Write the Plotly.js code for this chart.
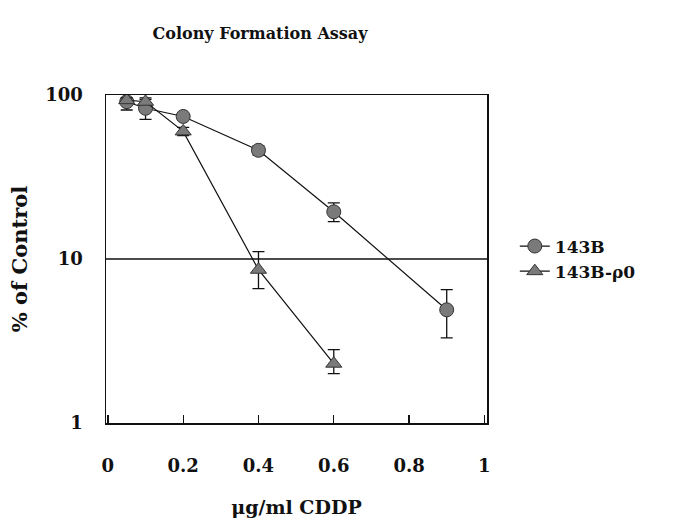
<!DOCTYPE html>
<html>
<head>
<meta charset="utf-8">
<script src="https://cdn.plot.ly/plotly-3.0.1.min.js"></script>
<style>html,body{margin:0;padding:0;background:#fff;}#chart{width:674px;height:524px;}</style>
</head>
<body>
<div id="chart"></div>
<script>
const dose143B = [0.05, 0.1, 0.2, 0.4, 0.6, 0.9];
const val143B = [91, 83, 74, 46, 19.4, 4.9];
const errUp143B = [15, 13, 3, 3, 2.6, 1.6];
const errDn143B = [10, 12, 3, 3, 2.5, 1.6];

const doseRho0 = [0.05, 0.1, 0.2, 0.4, 0.6];
const valRho0 = [93, 91, 60, 8.6, 2.3];
const errUpRho0 = [3, 3, 3.5, 2.5, 0.5];
const errDnRho0 = [3, 3, 3.5, 2.0, 0.3];

const seriesNames = ['143B', '143B-\u03c10'];
const xTickVals = [0, 0.2, 0.4, 0.6, 0.8, 1];
const xTickText = ['0', '0.2', '0.4', '0.6', '0.8', '1'];
const yTickVals = [1, 10, 100];
const yTickText = ['1', '10', '100'];
const refLevel = 10;

const serif = 'DejaVu Serif, Liberation Serif, serif';

const traces = [
  {
    x: dose143B, y: val143B, name: seriesNames[0], type: 'scatter', mode: 'lines+markers',
    line: {color: '#111', width: 1.2},
    marker: {symbol: 'circle', size: 14, color: '#7a7a7a', line: {color: '#333', width: 1}},
    error_y: {type: 'data', symmetric: false, array: errUp143B, arrayminus: errDn143B,
              color: '#111', thickness: 1.3, width: 6}
  },
  {
    x: doseRho0, y: valRho0, name: seriesNames[1], type: 'scatter', mode: 'lines+markers',
    line: {color: '#111', width: 1.2},
    marker: {symbol: 'triangle-up', size: 14, color: '#7a7a7a', line: {color: '#333', width: 1}},
    error_y: {type: 'data', symmetric: false, array: errUpRho0, arrayminus: errDnRho0,
              color: '#111', thickness: 1.3, width: 6}
  }
];

const layout = {
  width: 674, height: 524,
  margin: {l: 106, r: 187, t: 95, b: 101},
  paper_bgcolor: '#fff', plot_bgcolor: '#fff',
  font: {family: serif, color: '#111'},
  title: {text: 'Colony Formation Assay', font: {family: serif, size: 16, weight: 'bold', color: '#111'},
          x: 260 / 674, xref: 'container', xanchor: 'center', y: 0.937, yanchor: 'middle'},
  xaxis: {
    range: [-0.005, 1.007], tickvals: xTickVals, ticktext: xTickText,
    ticks: 'inside', ticklen: 8, tickwidth: 1.3, tickcolor: '#111',
    ticklabelstandoff: 26,
    showline: true, mirror: true, linecolor: '#111', linewidth: 1.5,
    showgrid: false, zeroline: false,
    tickfont: {family: serif, size: 18, weight: 'bold', color: '#111'},
    title: {text: '\u03bcg/ml CDDP', standoff: 25, font: {family: serif, size: 19, weight: 'bold', color: '#111'}}
  },
  yaxis: {
    type: 'log', range: [0, 2], tickvals: yTickVals, ticktext: yTickText,
    ticks: '', ticklabelstandoff: 18,
    showline: true, mirror: true, linecolor: '#111', linewidth: 1.5,
    showgrid: false, zeroline: false,
    tickfont: {family: serif, size: 18, weight: 'bold', color: '#111'},
    title: {text: '% of Control', standoff: 12, font: {family: serif, size: 21, weight: 'bold', color: '#111'}}
  },
  shapes: [
    {type: 'line', xref: 'paper', x0: 0, x1: 1, yref: 'y', y0: refLevel, y1: refLevel,
     line: {color: '#111', width: 1.5}}
  ],
  showlegend: true,
  legend: {x: 1.073, xanchor: 'left', y: 0.5, yanchor: 'middle', bgcolor: 'rgba(0,0,0,0)',
           font: {family: serif, size: 17, weight: 'bold', color: '#111'}}
};

Plotly.newPlot('chart', traces, layout, {displayModeBar: false, staticPlot: true});
</script>
</body>
</html>
